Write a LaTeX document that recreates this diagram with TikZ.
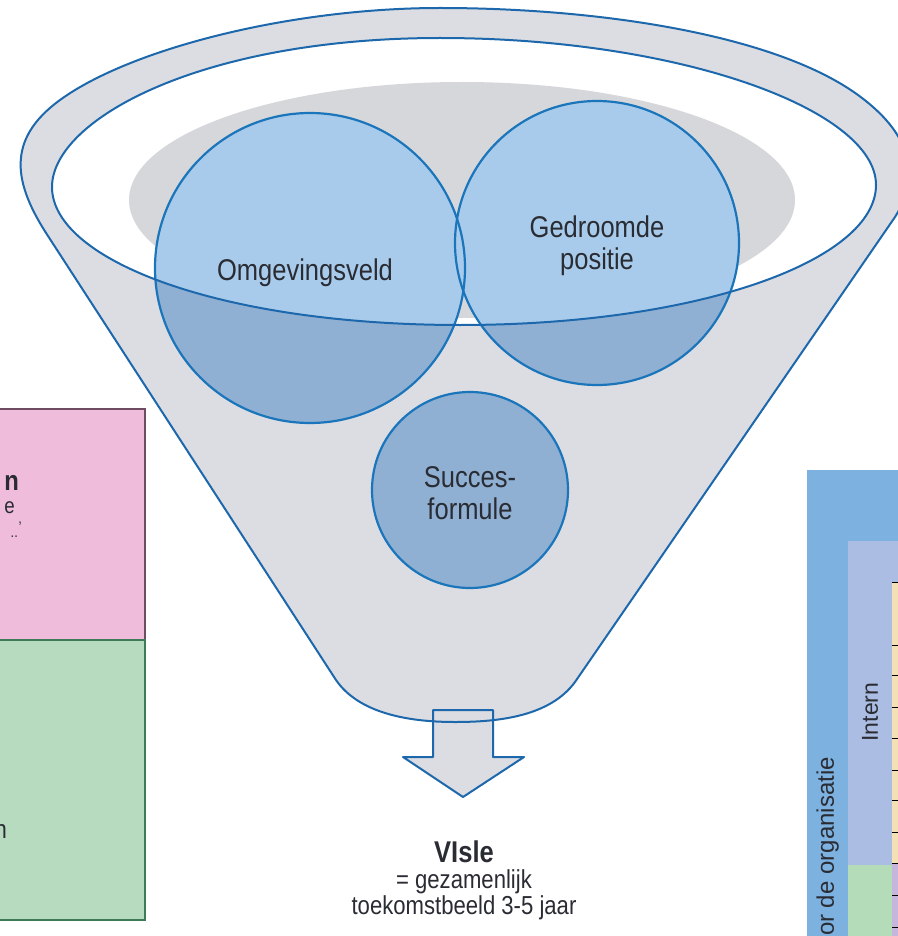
\documentclass[tikz,border=0pt]{standalone}
\usepackage{fontspec}
\setmainfont{Liberation Sans}
\newfontfamily\condfont[FakeStretch=0.85]{Liberation Sans}

\definecolor{funnelgrey}{HTML}{DCDDE2}
\definecolor{shadowgrey}{HTML}{D6D7DB}
\definecolor{rimblue}{HTML}{1D68AC}
\definecolor{circblue}{HTML}{1B75BB}
\definecolor{lightcirc}{HTML}{A9CBEB}
\definecolor{darkcirc}{HTML}{8FB0D3}
\definecolor{labelgrey}{HTML}{2A2C33}
\definecolor{pinkbox}{HTML}{EFBCDB}
\definecolor{pinkedge}{HTML}{6E4D63}
\definecolor{greenbox}{HTML}{B7DBBE}
\definecolor{greenedge}{HTML}{3F7A56}
\definecolor{panelblue}{HTML}{7DB1DF}
\definecolor{panellav}{HTML}{ABBDE2}
\definecolor{panelgreen}{HTML}{B4DCB9}
\definecolor{panelbeige}{HTML}{F4E0B5}
\definecolor{panelpurple}{HTML}{C6B6DE}

% outline of the funnel body including its outer rim
\def\funnelbody{(336,680) -- (48,236)
  .. controls (14,184) and (5,140) .. (60,100)
  .. controls (130,49) and (290,8) .. (440,8)
  .. controls (600,8) and (780,35) .. (862,98)
  .. controls (925,146) and (912,190) .. (895,217)
  -- (575,682)
  .. controls (550,716) and (500,722) .. (455,722)
  .. controls (405,722) and (358,712) .. cycle}

% the open mouth of the funnel
\def\funnelmouth{(52,187)
  .. controls (52,120) and (200,38) .. (440,38)
  .. controls (680,38) and (876,110) .. (876,185)
  .. controls (876,260) and (700,325) .. (460,325)
  .. controls (220,325) and (52,260) .. cycle}

\tikzset{
  rimline/.style={draw=rimblue, line width=2pt, line join=round},
  circline/.style={draw=circblue, line width=2.2pt},
  circlabel/.style={font=\condfont\fontsize{30}{32}\selectfont, text=labelgrey, align=center, inner sep=0pt},
  visionlabel/.style={font=\condfont\fontsize{26}{26}\selectfont, text=labelgrey, align=center, inner sep=0pt},
  sidelabel/.style={font=\fontsize{23}{26}\selectfont, text=labelgrey, inner sep=0pt},
  boxtext/.style={font=\condfont\fontsize{22}{24}\selectfont, text=labelgrey, inner sep=0pt},
  tick/.style={draw=black, line width=0.9pt}
}

\begin{document}
\begin{tikzpicture}[x=1pt,y=-1pt]
\useasboundingbox (0,0) rectangle (897,936);
\fill[white] (0,0) rectangle (897,936);

% ---- left boxes ----
\path[fill=pinkbox, draw=pinkedge, line width=1.3pt] (-5,409) rectangle (145,640);
\path[fill=greenbox, draw=greenedge, line width=1.3pt] (-5,640) rectangle (145,920);
\node[boxtext, font=\condfont\bfseries\fontsize{28}{30}\selectfont, anchor=base east] (pinkA) at (19,490) {n};
\node[boxtext, anchor=base east] (pinkB) at (15,513) {e};
\node[boxtext, font=\condfont\fontsize{15}{16}\selectfont, anchor=base east] (pinkC) at (22,523) {,};
\node[boxtext, font=\condfont\fontsize{15}{16}\selectfont, anchor=base east] (pinkD) at (18,537) {..};
\node[boxtext, font=\condfont\fontsize{26}{28}\selectfont, anchor=base east] (greenA) at (7,838) {n};

% ---- right panel ----
\fill[panelblue] (807,470) rectangle (900,940);
\fill[panellav] (848,541) rectangle (900,865);
\fill[panelgreen] (848,865) rectangle (892,940);
\fill[panelbeige] (892,582) rectangle (900,863);
\fill[panelpurple] (892,863) rectangle (900,940);
\foreach \ty in {582,645,675,707,738,770,800,832,863,895,927}
  \draw[tick] (892,\ty) -- (900,\ty);
\node[sidelabel, rotate=90] (intern) at (870,712) {Intern};
\node[sidelabel, font=\fontsize{24}{26}\selectfont, rotate=90, anchor=south east] (organisatie) at (839,757) {or de organisatie};

% ---- funnel ----
\fill[funnelgrey] \funnelbody;
\fill[white] \funnelmouth;
\fill[shadowgrey] (462,200) ellipse [x radius=333pt, y radius=118pt];

% circle fills: darker on the funnel wall, lighter inside the mouth
\fill[darkcirc] (310,268) circle [radius=155pt];
\fill[darkcirc] (597,243) circle [radius=142pt];
\fill[darkcirc] (470,490) circle [radius=98pt];
\begin{scope}
  \clip \funnelmouth;
  \fill[lightcirc] (310,268) circle [radius=155pt];
  \fill[lightcirc] (597,243) circle [radius=142pt];
\end{scope}
\draw[circline] (310,268) circle [radius=155pt];
\draw[circline] (597,243) circle [radius=142pt];
\draw[circline] (470,490) circle [radius=98pt];

% outflow arrow
\path[fill=funnelgrey, rimline] (433,710) -- (493,710) -- (493,757) -- (524,757)
  -- (463,797) -- (403,757) -- (433,757) -- cycle;

\draw[rimline] \funnelbody;
\draw[rimline] \funnelmouth;

% ---- labels ----
\node[circlabel] (omgeving) at (305,273) {Omgevingsveld};
\node[circlabel] (positie) at (597,246) {Gedroomde\\positie};
\node[circlabel] (succes) at (470,493) {Succes-\\formule};
\node[visionlabel] (visie) at (464,880) {{\bfseries\fontsize{30}{26}\selectfont VIsle}\\= gezamenlijk\\toekomstbeeld 3-5 jaar};
\end{tikzpicture}
\end{document}
